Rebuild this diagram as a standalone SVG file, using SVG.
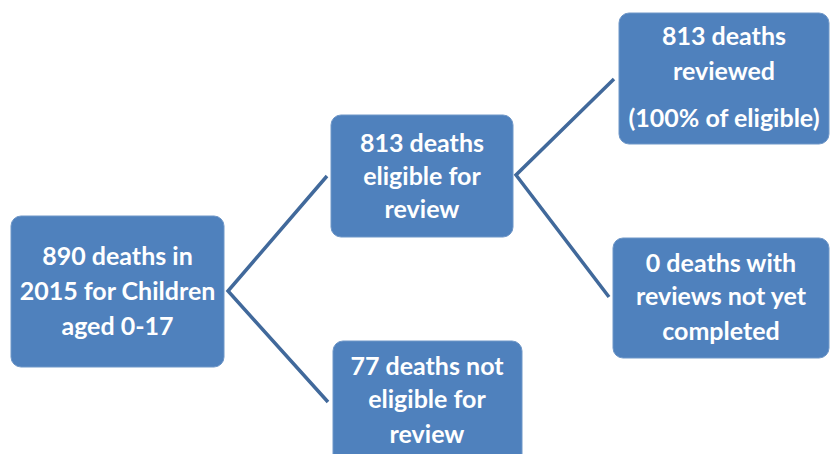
<svg xmlns="http://www.w3.org/2000/svg" width="831" height="454" viewBox="0 0 831 454">
<style>
.box{fill:#4F81BD;stroke:#6F97C8;stroke-width:1}
.t{font-family:Lato,"Open Sans","Liberation Sans",sans-serif;font-weight:bold;font-size:25px;fill:#FFFFFF;text-anchor:middle}
.c{stroke:#41699B;stroke-width:3.5;fill:none;stroke-linejoin:miter}
</style>
<rect width="831" height="454" fill="#FFFFFF"/>
<g id="connectors">
<polyline class="c" points="327,176 228,291 328,402"/>
<polyline class="c" points="614,79 516,175 609,297"/>
</g>
<g id="n-total">
<rect class="box" x="11" y="216" width="213" height="151" rx="10"/>
<text class="t" x="117.5" y="265">890 deaths in</text>
<text class="t" x="117.5" y="300">2015 for Children</text>
<text class="t" x="117.5" y="335">aged 0-17</text>
</g>
<g id="n-eligible">
<rect class="box" x="331" y="115" width="182" height="122" rx="10"/>
<text class="t" x="422" y="152">813 deaths</text>
<text class="t" x="422" y="185">eligible for</text>
<text class="t" x="422" y="218">review</text>
</g>
<g id="n-noteligible">
<rect class="box" x="333" y="341" width="189" height="125" rx="10"/>
<text class="t" x="427" y="375">77 deaths not</text>
<text class="t" x="427" y="408">eligible for</text>
<text class="t" x="427" y="443">review</text>
</g>
<g id="n-reviewed">
<rect class="box" x="619" y="13" width="210" height="131" rx="10"/>
<text class="t" x="724" y="45">813 deaths</text>
<text class="t" x="724" y="80">reviewed</text>
<text class="t" x="724" y="127">(100% of eligible)</text>
</g>
<g id="n-pending">
<rect class="box" x="613" y="238" width="216" height="120" rx="10"/>
<text class="t" x="721" y="272">0 deaths with</text>
<text class="t" x="721" y="305">reviews not yet</text>
<text class="t" x="721" y="340">completed</text>
</g>
</svg>
